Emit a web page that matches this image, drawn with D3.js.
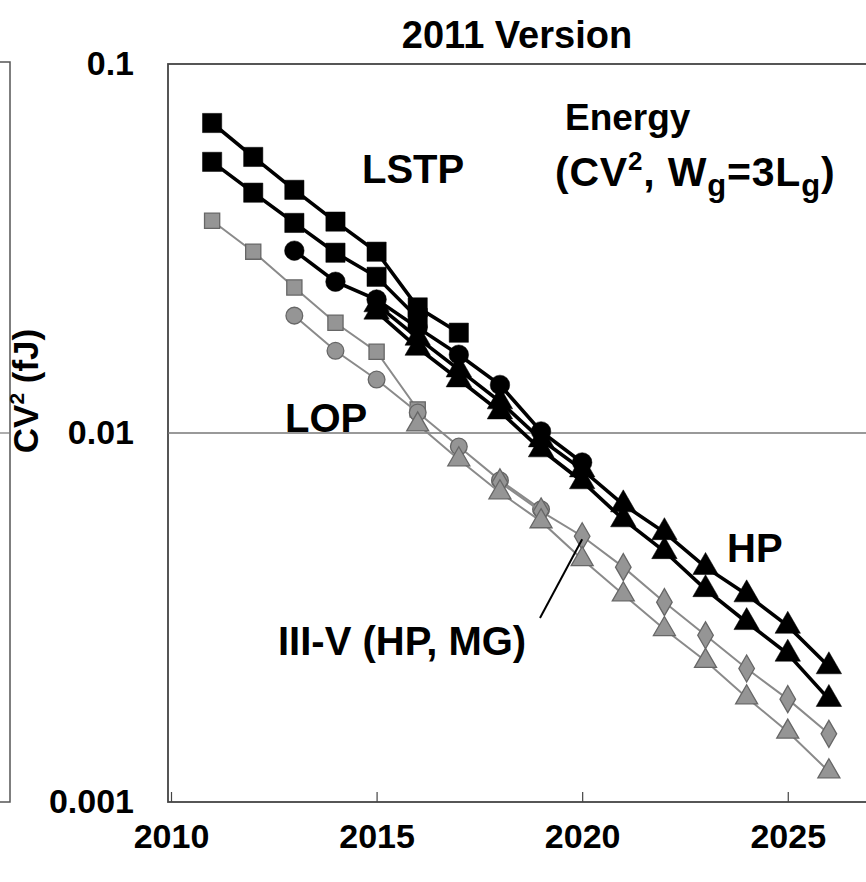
<!DOCTYPE html>
<html>
<head>
<meta charset="utf-8">
<script src="https://cdn.jsdelivr.net/npm/d3@7/dist/d3.min.js"></script>
<style>
html,body{margin:0;padding:0;background:#fff;}
svg text{font-family:"Liberation Sans",Arial,sans-serif;font-weight:bold;fill:#000;}
</style>
</head>
<body>
<svg id="chart" width="866" height="882"></svg>
<script>
// ---- data (values in fJ) ----
const xTicks = [2010, 2015, 2020, 2025];
const yTicks = [0.1, 0.01, 0.001];
const yTickLabels = ["0.1", "0.01", "0.001"];

// LSTP, black squares (two series) and black circles
const lstpSq1Start = 2011;
const lstpSq1 = [0.0692, 0.0560, 0.0456, 0.0374, 0.0310, 0.0219, 0.0187];
const lstpSq2Start = 2011;
const lstpSq2 = [0.0543, 0.0448, 0.0371, 0.0308, 0.0265, 0.0205];
const lstpCircStart = 2013;
const lstpCirc = [0.0312, 0.0257, 0.0230, 0.0193, 0.0163, 0.0135, 0.0101, 0.00832];
// HP, black triangles (two series)
const hpTri1Start = 2015;
const hpTri1 = [0.0223, 0.0181, 0.01485, 0.01217, 0.0096, 0.00796, 0.0064, 0.00538, 0.00433, 0.00365, 0.0030, 0.00233];
const hpTri2Start = 2015;
const hpTri2 = [0.0213, 0.0170, 0.01396, 0.01143, 0.00902, 0.00739, 0.00583, 0.00478, 0.00377, 0.00307, 0.00252, 0.0019];
// LOP, grey squares, circles, triangles
const lopSqStart = 2011;
const lopSq = [0.0376, 0.0310, 0.0248, 0.0199, 0.0166, 0.01158];
const lopCircStart = 2013;
const lopCirc = [0.0208, 0.0167, 0.01396, 0.01136, 0.00919, 0.00744, 0.00621];
const lopTriStart = 2016;
const lopTri = [0.01054, 0.00848, 0.0069, 0.00576, 0.00455, 0.00365, 0.00294, 0.00241, 0.00192, 0.00155, 0.00121];
// III-V (HP, MG), grey diamonds
const iiivDiaStart = 2018;
const iiivDia = [0.00735, 0.00613, 0.00525, 0.00433, 0.00348, 0.00283, 0.0023, 0.0019, 0.00153];

// ---- layout ----
const svg = d3.select("#chart");
const pLeft = 168, pTop = 64, pBottom = 802, pRight = 870;
const x = d3.scaleLinear().domain([2010, 2027]).range([pLeft + 3, pRight]);
const y = d3.scaleLog().domain([0.001, 0.1]).range([pBottom, pTop]);

function pts(start, vals) { return vals.map((v, i) => ({ yr: start + i, v })); }

// remnant of the neighbouring panel on the left
svg.append("path").attr("d", `M0,${y(0.1) - 2}H10V${y(0.001)}H0`).attr("fill", "none").attr("stroke", "#555").attr("stroke-width", 1.5);
svg.append("line").attr("x1", 0).attr("x2", 10).attr("y1", y(0.01)).attr("y2", y(0.01)).attr("stroke", "#777").attr("stroke-width", 1.2);

// plot frame
svg.append("rect").attr("x", pLeft).attr("y", pTop).attr("width", pRight - pLeft).attr("height", pBottom - pTop)
  .attr("fill", "none").attr("stroke", "#444").attr("stroke-width", 1.8);
// 0.01 grid line
svg.append("line").attr("x1", pLeft).attr("x2", pRight).attr("y1", y(0.01)).attr("y2", y(0.01))
  .attr("stroke", "#777").attr("stroke-width", 1.5);

// x axis
const xAxis = d3.axisBottom(x).tickValues(xTicks).tickFormat(d3.format("d")).tickSize(-10).tickPadding(22);
const gx = svg.append("g").attr("transform", `translate(0,${pBottom})`).call(xAxis);
gx.select(".domain").remove();
gx.selectAll(".tick line").attr("stroke", "#444").attr("stroke-width", 1.2);
gx.selectAll(".tick text").attr("font-size", 34).attr("fill", "#000")
  .style("font-family", "'Liberation Sans',Arial,sans-serif").style("font-weight", "bold");

// y axis labels
const yAxis = d3.axisLeft(y).tickValues(yTicks).tickFormat((d, i) => yTickLabels[i]).tickSize(0).tickPadding(34);
const gy = svg.append("g").attr("transform", `translate(${pLeft},0)`).call(yAxis);
gy.select(".domain").remove();
gy.selectAll(".tick text").attr("font-size", 34).attr("fill", "#000")
  .style("font-family", "'Liberation Sans',Arial,sans-serif").style("font-weight", "bold");

// series drawing
const line = d3.line().x(d => x(d.yr)).y(d => y(d.v));
const sym = {
  square: d3.symbol().type(d3.symbolSquare),
  circle: d3.symbol().type(d3.symbolCircle),
  triangle: d3.symbol().type(d3.symbolTriangle),
  diamond: d3.symbol().type(d3.symbolDiamond)
};
function series(data, shape, size, grey) {
  const g = svg.append("g");
  g.append("path").datum(data).attr("d", line).attr("fill", "none")
    .attr("stroke", grey ? "#8a8a8a" : "#000").attr("stroke-width", grey ? 2 : 3.6);
  g.selectAll("path.m").data(data).join("path").attr("class", "m")
    .attr("d", sym[shape].size(size))
    .attr("transform", d => `translate(${x(d.yr)},${y(d.v)})`)
    .attr("fill", grey ? "#959595" : "#000")
    .attr("stroke", grey ? "#666" : "#000").attr("stroke-width", grey ? 1.3 : 0.5);
}
series(pts(lopSqStart, lopSq), "square", 230, true);
series(pts(lopCircStart, lopCirc), "circle", 220, true);
series(pts(iiivDiaStart, iiivDia), "diamond", 210, true);
series(pts(lopTriStart, lopTri), "triangle", 210, true);
series(pts(hpTri2Start, hpTri2), "triangle", 280, false);
series(pts(hpTri1Start, hpTri1), "triangle", 280, false);
series(pts(lstpCircStart, lstpCirc), "circle", 300, false);
series(pts(lstpSq2Start, lstpSq2), "square", 370, false);
series(pts(lstpSq1Start, lstpSq1), "square", 370, false);

// leader line for III-V label
svg.append("line").attr("x1", x(2020)).attr("y1", y(0.00525) + 3).attr("x2", 540).attr("y2", 618)
  .attr("stroke", "#000").attr("stroke-width", 2);

// texts
function txt(t, xx, yy, size, anchor) {
  return svg.append("text").attr("x", xx).attr("y", yy).attr("font-size", size)
    .attr("text-anchor", anchor || "start").text(t);
}
txt("2011 Version", 517, 48, 38, "middle");
txt("Energy", 565, 130, 37);
const t2 = svg.append("text").attr("x", 555).attr("y", 186).attr("font-size", 41).attr("letter-spacing", 0.8);
t2.append("tspan").text("(CV");
t2.append("tspan").attr("font-size", 26).attr("dy", -16).text("2");
t2.append("tspan").attr("dy", 16).text(", W");
t2.append("tspan").attr("font-size", 31).attr("dy", 10).text("g");
t2.append("tspan").attr("dy", -10).text("=3L");
t2.append("tspan").attr("font-size", 31).attr("dy", 10).text("g");
t2.append("tspan").attr("dy", -10).text(")");
txt("LSTP", 362, 183, 40);
txt("LOP", 285, 432, 40);
txt("HP", 727, 562, 40);
txt("III-V (HP, MG)", 278, 655, 40);

// y-axis title
const yl = svg.append("text").attr("transform", "translate(38,391) rotate(-90)")
  .attr("text-anchor", "middle").attr("font-size", 35);
yl.append("tspan").text("CV");
yl.append("tspan").attr("font-size", 21).attr("dy", -14).text("2");
yl.append("tspan").attr("dy", 14).text(" (fJ)");
</script>
</body>
</html>
